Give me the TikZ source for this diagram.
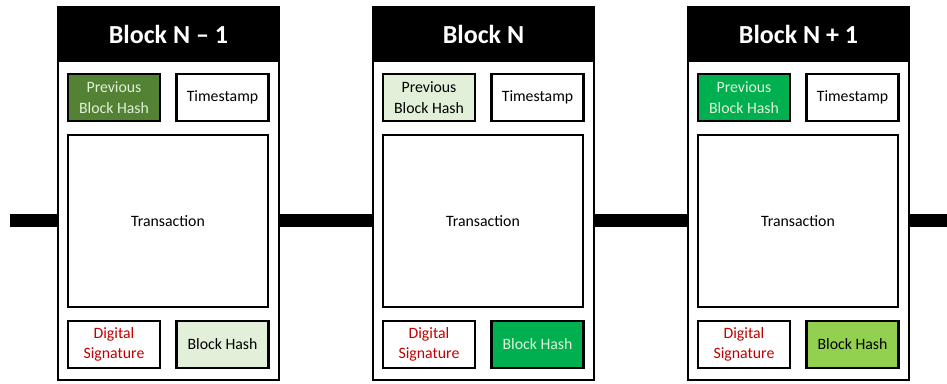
\documentclass[tikz,border=0pt]{standalone}
\usepackage{fontspec}
\setmainfont{Carlito}
\usepackage{xcolor}
\usetikzlibrary{positioning,calc}
\definecolor{darkgreen}{HTML}{548235}
\definecolor{palegreen}{HTML}{E2F0D9}
\definecolor{brightgreen}{HTML}{00B050}
\definecolor{limegreen}{HTML}{92D050}
\definecolor{sigred}{HTML}{C00000}

\begin{document}
\begin{tikzpicture}[x=1pt, y=-1pt,
  block/.style={draw, rectangle, line width=1.6pt, minimum width=221pt, minimum height=373pt,
                inner sep=0pt, fill=white},
  header/.style={draw, rectangle, fill=black, line width=1.6pt, minimum width=221pt,
                 minimum height=54pt, inner sep=0pt, text=white,
                 font=\fontsize{26}{30}\selectfont\bfseries},
  field/.style={draw, rectangle, line width=2.2pt, minimum width=92pt, minimum height=47pt,
                inner sep=0pt, align=center, fill=white, font=\fontsize{15.8}{20.5}\selectfont},
  txbox/.style={field, minimum width=200pt, minimum height=172pt},
  link/.style={-, line width=13pt}
]
  \useasboundingbox (0,0) rectangle (947,383);

  \node[block]  (b1)  at (168.5,193.5) {};
  \node[block]  (b2)  at (483.5,193.5) {};
  \node[block]  (b3)  at (798.5,193.5) {};

  \coordinate (chainin)  at (10,220.5);
  \coordinate (chainout) at (947,220.5);

  % block N-1
  \node[header] (h1)   at (168.5,34)    {Block N -- 1};
  \node[field, fill=darkgreen, text=palegreen] (prev1) at (114,97.5) {Previous\\Block Hash};
  \node[field]  (ts1)  at (222.5,97.5)  {Timestamp};
  \node[txbox]  (tx1)  at (168,221)     {Transaction};
  \node[field, text=sigred] (sig1) at (114,344.5) {Digital\\Signature};
  \node[field, fill=palegreen] (hash1) at (222.5,344.5) {Block Hash};

  % block N
  \node[header] (h2)   at (483.5,34)    {Block N};
  \node[field, fill=palegreen] (prev2) at (429,97.5) {Previous\\Block Hash};
  \node[field]  (ts2)  at (537.5,97.5)  {Timestamp};
  \node[txbox]  (tx2)  at (483,221)     {Transaction};
  \node[field, text=sigred] (sig2) at (429,344.5) {Digital\\Signature};
  \node[field, fill=brightgreen, text=palegreen] (hash2) at (537.5,344.5) {Block Hash};

  % block N+1
  \node[header] (h3)   at (798.5,34)    {Block N + 1};
  \node[field, fill=brightgreen, text=palegreen] (prev3) at (744,97.5) {Previous\\Block Hash};
  \node[field]  (ts3)  at (852.5,97.5)  {Timestamp};
  \node[txbox]  (tx3)  at (798,221)     {Transaction};
  \node[field, text=sigred] (sig3) at (744,344.5) {Digital\\Signature};
  \node[field, fill=limegreen] (hash3) at (852.5,344.5) {Block Hash};

  % chain links
  \draw[link] (chainin) -- (chainin -| b1.west);
  \draw[link] (chainin -| b1.east) -- (chainin -| b2.west);
  \draw[link] (chainin -| b2.east) -- (chainin -| b3.west);
  \draw[link] (chainin -| b3.east) -- (chainout);

\end{tikzpicture}
\end{document}
